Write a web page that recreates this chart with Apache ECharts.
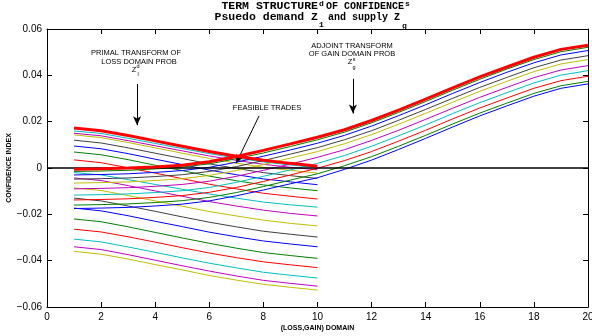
<!DOCTYPE html>
<html>
<head>
<meta charset="utf-8">
<script src="https://cdn.jsdelivr.net/npm/echarts@6/dist/echarts.min.js"></script>
<style>
  html, body { margin: 0; padding: 0; background: #fff; }
  #chart { width: 592px; height: 336px; }
</style>
</head>
<body>
<div id="chart"></div>
<script>
// x grid of the two domains
const lossX = [1, 2, 3, 4, 5, 6, 7, 8, 9, 10];
const gainX = [1, 2, 3, 4, 5, 6, 7, 8, 9, 10, 11, 12, 13, 14, 15, 16, 17, 18, 19, 20];

// loss domain curves (primal transform), top to bottom at x=1
const loss = [
  [0.0173, 0.0161, 0.0140, 0.0117, 0.0094, 0.0071, 0.0051, 0.0033, 0.0020, 0.0008],
  [0.0160, 0.0149, 0.0128, 0.0106, 0.0084, 0.0062, 0.0043, 0.0026, 0.0013, 0.0002],
  [0.0150, 0.0139, 0.0118, 0.0096, 0.0074, 0.0052, 0.0033, 0.0016, 0.0003, -0.0008],
  [0.0143, 0.0131, 0.0110, 0.0087, 0.0064, 0.0041, 0.0021, 0.0003, -0.0010, -0.0022],
  [0.0120, 0.0108, 0.0087, 0.0064, 0.0041, 0.0018, -0.0002, -0.0020, -0.0033, -0.0045],
  [0.0095, 0.0083, 0.0062, 0.0038, 0.0015, -0.0009, -0.0029, -0.0047, -0.0060, -0.0072],
  [0.0069, 0.0057, 0.0036, 0.0012, -0.0011, -0.0035, -0.0055, -0.0073, -0.0086, -0.0098],
  [0.0035, 0.0023, 0.0001, -0.0022, -0.0046, -0.0070, -0.0090, -0.0109, -0.0122, -0.0134],
  [-0.0020, -0.0030, -0.0050, -0.0071, -0.0092, -0.0112, -0.0130, -0.0147, -0.0159, -0.0169],
  [-0.0043, -0.0054, -0.0076, -0.0099, -0.0122, -0.0145, -0.0164, -0.0182, -0.0196, -0.0207],
  [-0.0086, -0.0097, -0.0119, -0.0142, -0.0165, -0.0188, -0.0207, -0.0225, -0.0239, -0.0250],
  [-0.0130, -0.0142, -0.0164, -0.0187, -0.0211, -0.0234, -0.0254, -0.0273, -0.0286, -0.0298],
  [-0.0173, -0.0185, -0.0206, -0.0230, -0.0253, -0.0277, -0.0297, -0.0315, -0.0328, -0.0340],
  [-0.0220, -0.0232, -0.0254, -0.0278, -0.0302, -0.0325, -0.0346, -0.0365, -0.0378, -0.0390],
  [-0.0264, -0.0276, -0.0297, -0.0320, -0.0344, -0.0367, -0.0387, -0.0405, -0.0418, -0.0430],
  [-0.0307, -0.0319, -0.0341, -0.0364, -0.0388, -0.0411, -0.0431, -0.0450, -0.0463, -0.0475],
  [-0.0340, -0.0352, -0.0374, -0.0398, -0.0422, -0.0445, -0.0466, -0.0485, -0.0498, -0.0510],
  [-0.0360, -0.0372, -0.0393, -0.0417, -0.0440, -0.0464, -0.0484, -0.0502, -0.0515, -0.0527]
];

// gain domain curves (adjoint transform), bottom to top
const gain = [
  [-0.0175, -0.0173, -0.0170, -0.0164, -0.0156, -0.0142, -0.0120, -0.0095, -0.0068, -0.0042, -0.0006, 0.0034, 0.0080, 0.0128, 0.0177, 0.0225, 0.0268, 0.0310, 0.0344, 0.0363],
  [-0.0160, -0.0158, -0.0155, -0.0149, -0.0141, -0.0127, -0.0106, -0.0080, -0.0052, -0.0025, 0.0010, 0.0049, 0.0094, 0.0141, 0.0190, 0.0237, 0.0280, 0.0322, 0.0355, 0.0374],
  [-0.0138, -0.0136, -0.0133, -0.0127, -0.0119, -0.0105, -0.0084, -0.0058, -0.0030, -0.0001, 0.0032, 0.0071, 0.0116, 0.0163, 0.0212, 0.0259, 0.0302, 0.0344, 0.0377, 0.0396],
  [-0.0117, -0.0115, -0.0112, -0.0106, -0.0098, -0.0084, -0.0062, -0.0036, -0.0008, 0.0020, 0.0054, 0.0094, 0.0139, 0.0186, 0.0235, 0.0282, 0.0325, 0.0367, 0.0401, 0.0420],
  [-0.0090, -0.0088, -0.0085, -0.0079, -0.0071, -0.0057, -0.0036, -0.0010, 0.0017, 0.0046, 0.0079, 0.0119, 0.0163, 0.0210, 0.0258, 0.0305, 0.0348, 0.0390, 0.0423, 0.0442],
  [-0.0065, -0.0063, -0.0060, -0.0054, -0.0046, -0.0032, -0.0011, 0.0015, 0.0043, 0.0071, 0.0105, 0.0144, 0.0189, 0.0236, 0.0284, 0.0331, 0.0374, 0.0416, 0.0449, 0.0468],
  [-0.0048, -0.0046, -0.0043, -0.0037, -0.0029, -0.0015, 0.0006, 0.0032, 0.0060, 0.0088, 0.0122, 0.0161, 0.0206, 0.0253, 0.0301, 0.0348, 0.0391, 0.0433, 0.0466, 0.0485],
  [-0.0030, -0.0028, -0.0025, -0.0019, -0.0011, 0.0003, 0.0025, 0.0051, 0.0078, 0.0107, 0.0141, 0.0181, 0.0226, 0.0273, 0.0322, 0.0369, 0.0413, 0.0454, 0.0488, 0.0507],
  [-0.0015, -0.0013, -0.0010, -0.0004, 0.0004, 0.0018, 0.0040, 0.0065, 0.0093, 0.0122, 0.0155, 0.0195, 0.0240, 0.0287, 0.0336, 0.0383, 0.0427, 0.0468, 0.0502, 0.0521],
  [-0.0005, -0.0003, 0.0000, 0.0004, 0.0012, 0.0027, 0.0050, 0.0076, 0.0104, 0.0133, 0.0165, 0.0205, 0.0250, 0.0297, 0.0346, 0.0393, 0.0436, 0.0478, 0.0512, 0.0530]
];

// annotation arrows [x0, y0, x1, y1] in data units
const primalArrow = [3.33, 0.0363, 3.33, 0.0185];
const feasibleArrow = [7.84, 0.0225, 6.99, 0.0020];
const adjointArrow = [11.31, 0.0385, 11.31, 0.0235];

// matlab colour order b g r c m y k
const cycle = ['#0000ff', '#008000', '#ff0000', '#00bfbf', '#bf00bf', '#bfbf00', '#404040'];

let chart = echarts.init(document.getElementById('chart'));

let series = [];
loss.forEach((row, i) => {
  series.push({
    type: 'line',
    data: lossX.map((x, j) => [x, row[j]]),
    symbol: 'none',
    lineStyle: { color: cycle[(i + 2) % 7], width: i == 0 ? 3 : 1 },
    z: i == 0 ? 5 : 2
  });
});
gain.forEach((row, i) => {
  series.push({
    type: 'line',
    data: gainX.map((x, j) => [x, row[j]]),
    symbol: 'none',
    lineStyle: { color: cycle[i % 7], width: i == gain.length - 1 ? 3 : 1 },
    z: i == gain.length - 1 ? 6 : 3
  });
});

function arrow(a) {
  return [{ coord: [a[0], a[1]] }, { coord: [a[2], a[3]] }];
}
// zero line
series.push({
  type: 'line',
  data: [],
  symbol: 'none',
  z: 8,
  markLine: {
    silent: true,
    animation: false,
    symbol: ['none', 'none'],
    label: { show: false },
    lineStyle: { color: '#000', width: 1.5, type: 'solid' },
    data: [{ yAxis: 0 }]
  }
});
// arrows
series.push({
  type: 'line',
  data: [],
  symbol: 'none',
  z: 9,
  markLine: {
    silent: true,
    animation: false,
    symbol: ['none', 'arrow'],
    symbolSize: [6, 9],
    label: { show: false },
    lineStyle: { color: '#000', width: 1, type: 'solid' },
    data: [arrow(primalArrow), arrow(feasibleArrow), arrow(adjointArrow)]
  }
});

const tickFont = { color: '#000', fontSize: 10, fontFamily: 'Liberation Sans, Arial, sans-serif' };
function fmt(v) {
  let r = Math.round(v * 100) / 100;
  if (r == 0) return '0';
  return (r < 0 ? '\u2212' : '') + Math.abs(r).toFixed(2);
}
function note(txt, x, y, size) {
  return {
    type: 'text', x: x, y: y, z: 20,
    style: {
      text: txt, fill: '#000', align: 'center', verticalAlign: 'middle',
      font: (size || 7.5) + 'px "Liberation Sans", Arial, sans-serif'
    }
  };
}
function mono(txt, x, y, align, size) {
  return {
    type: 'text', x: x, y: y, z: 20,
    style: {
      text: txt, fill: '#000', align: align || 'center', verticalAlign: 'middle',
      font: 'bold ' + (size || 11.5) + 'px "Liberation Mono", "Courier New", monospace'
    }
  };
}

const frameAxis = {
  axisLine: { show: true, onZero: false, lineStyle: { color: '#000', width: 1 } },
  axisTick: { show: true, inside: true, length: 5, lineStyle: { color: '#000' } },
  splitLine: { show: false }
};

let option = {
  animation: false,
  backgroundColor: '#fff',
  grid: { left: 47, right: 4, top: 29, bottom: 29, outerBoundsMode: 'none', containLabel: false },
  xAxis: [
    Object.assign({
      type: 'value', min: 0, max: 20, interval: 2,
      position: 'bottom',
      name: '(LOSS,GAIN) DOMAIN', nameLocation: 'middle', nameGap: 18, nameMoveOverlap: false,
      nameTextStyle: { color: '#000', fontSize: 7, fontWeight: 'bold', fontFamily: 'Liberation Sans, Arial, sans-serif' },
      axisLabel: Object.assign({ margin: 5 }, tickFont)
    }, frameAxis),
    Object.assign({
      type: 'value', min: 0, max: 20, interval: 2,
      position: 'top',
      axisLabel: { show: false }
    }, frameAxis)
  ],
  yAxis: [
    Object.assign({
      type: 'value', min: -0.06, max: 0.06, interval: 0.02,
      position: 'left',
      name: 'CONFIDENCE INDEX', nameLocation: 'middle', nameGap: 34, nameMoveOverlap: false,
      nameTextStyle: { color: '#000', fontSize: 7, fontWeight: 'bold', fontFamily: 'Liberation Sans, Arial, sans-serif' },
      axisLabel: Object.assign({ margin: 5, formatter: fmt }, tickFont)
    }, frameAxis),
    Object.assign({
      type: 'value', min: -0.06, max: 0.06, interval: 0.02,
      position: 'right',
      axisLabel: { show: false }
    }, frameAxis)
  ],
  graphic: [
    // title, two lines with the Z scripts poking into line one
    mono('TERM STRUCTURE', 318, 6, 'right'),
    mono('OF CONFIDENCE', 326, 6, 'left', 10),
    mono('Psuedo demand Z', 318, 17, 'right'),
    mono('and supply Z', 328, 17, 'left', 10),
    mono('d', 319, 4, 'left', 8),
    mono('1', 319, 25, 'left', 8),
    mono('s', 405, 4, 'left', 8),
    mono('g', 402, 26, 'left', 8),
    // annotations
    note('PRIMAL TRANSFORM OF', 136, 53),
    note('LOSS DOMAIN PROB', 139, 62),
    note('Z', 134, 70),
    note('d', 138, 66, 5.5),
    note('l', 138, 74, 5.5),
    note('FEASIBLE TRADES', 267, 108),
    note('ADJOINT TRANSFORM', 352, 46),
    note('OF GAIN DOMAIN PROB', 352, 54),
    note('Z', 350, 62),
    note('s', 354, 59, 5.5),
    note('g', 354, 67, 5.5)
  ],
  series: series
};

chart.setOption(option, true);
</script>
</body>
</html>
